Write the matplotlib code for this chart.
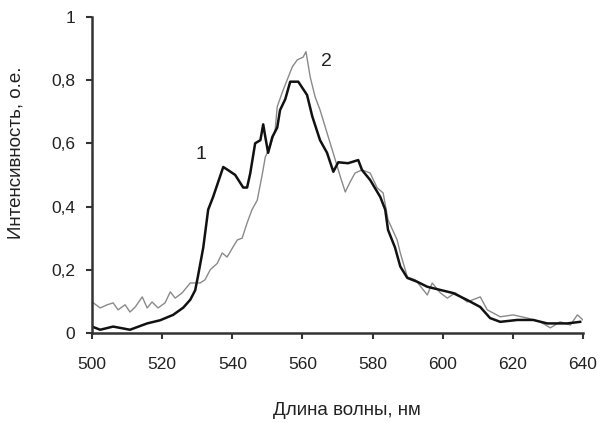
import matplotlib.pyplot as plt

# curve 1 (black)
wl1 = [500, 502.3, 506, 510.8, 515.7, 519.4, 523.1, 526, 528, 529.4, 530.2, 531.7, 533.1, 534.5,
       537.4, 538.8, 540.8, 543.1, 544.2, 545.1, 546.5, 548, 548.8, 549.4, 550.2, 551.4, 552.8,
       553.6, 555.1, 556.5, 558.8, 561.3, 562.8, 565, 567, 568.8, 570.2, 573, 575.9, 577, 579.3,
       582.2, 583.6, 584.4, 586.4, 587.9, 589.9, 592.7, 595.6, 599.3, 603, 607, 610.7, 613.5,
       616.4, 621.3, 625.8, 629.8, 635.5, 639.2]
int1 = [0.02, 0.01, 0.02, 0.01, 0.03, 0.04, 0.057, 0.08, 0.105, 0.135, 0.18, 0.27, 0.39, 0.43,
        0.525, 0.515, 0.5, 0.46, 0.46, 0.505, 0.6, 0.61, 0.66, 0.62, 0.57, 0.62, 0.65,
        0.705, 0.74, 0.795, 0.795, 0.753, 0.685, 0.61, 0.57, 0.51, 0.54, 0.537, 0.547, 0.515, 0.484,
        0.43, 0.39, 0.326, 0.27, 0.21, 0.174, 0.162, 0.146, 0.136, 0.126, 0.104, 0.082, 0.047,
        0.035, 0.041, 0.041, 0.03, 0.03, 0.035]

# curve 2 (grey)
wl2 = [500, 502.3, 504.3, 506, 507.4, 509.4, 510.8, 512.3, 514.3, 515.7, 517.1, 518.8, 520.8,
       522.3, 523.7, 525.7, 528, 529.4, 530.8, 532.2, 533.7, 535.7, 537.1, 538.5, 540.2, 541.4,
       542.8, 544.2, 545.6, 547.1, 548.5, 549.4, 550.8, 552.2, 552.8, 554.2, 555.6, 557.1, 558.5,
       560.2, 561, 562.2, 563.6, 565, 567, 568.5, 570.8, 572.2, 573.6, 575, 577, 579.3, 581.3,
       583, 584.4, 587, 587.9, 589.9, 592.2, 595.6, 597, 599.3, 601.3, 603.6, 607, 610.7, 612.7,
       616.4, 620.1, 624.1, 627.8, 630.7, 633.5, 636.4, 638.4, 640]
int2 = [0.098, 0.079, 0.089, 0.095, 0.073, 0.089, 0.066, 0.082, 0.114, 0.079, 0.098, 0.079, 0.095,
        0.13, 0.11, 0.127, 0.158, 0.158, 0.158, 0.168, 0.2, 0.22, 0.253, 0.24, 0.272, 0.294,
        0.3, 0.348, 0.39, 0.42, 0.5, 0.557, 0.59, 0.642, 0.716, 0.76, 0.8, 0.842, 0.864,
        0.873, 0.89, 0.81, 0.747, 0.706, 0.633, 0.579, 0.494, 0.446, 0.478, 0.506, 0.516, 0.506, 0.459,
        0.443, 0.358, 0.294, 0.253, 0.177, 0.168, 0.12, 0.158, 0.127, 0.11, 0.127, 0.098, 0.114, 0.073,
        0.051, 0.057, 0.047, 0.035, 0.016, 0.035, 0.025, 0.057, 0.041]

xticks = [500, 520, 540, 560, 580, 600, 620, 640]
yticks = [0, 0.2, 0.4, 0.6, 0.8, 1]
ylabels = ["0", "0,2", "0,4", "0,6", "0,8", "1"]

plt.rcParams['font.family'] = ['Liberation Sans', 'DejaVu Sans']

fig = plt.figure(figsize=(6.06, 4.23), dpi=100)
ax = fig.add_axes([0.152, 0.213, 0.810, 0.747])

ax.plot(wl2, int2, color='#8a8a8a', lw=1.0)
ax.plot(wl1, int1, color='#111111', lw=1.8)

ax.text(531, 0.565, "1", fontsize=14, ha='center', va='center', color='#222222')
ax.text(566.8, 0.86, "2", fontsize=14, ha='center', va='center', color='#222222')

ax.set_xlim(500, 640)
ax.set_ylim(0, 1)
ax.set_xticks(xticks)
ax.set_yticks(yticks)
ax.set_yticklabels(ylabels)
ax.spines['top'].set_visible(False)
ax.spines['right'].set_visible(False)
for s in ['left', 'bottom']:
    ax.spines[s].set_linewidth(1.8)
    ax.spines[s].set_color('#333333')
ax.tick_params(direction='out', length=4, width=1.5, colors='#333333',
               labelsize=12.5, labelcolor='#222222')
ax.tick_params(axis='x', pad=13)
ax.tick_params(axis='y', pad=8)

ax.set_xlabel("Длина волны, нм", fontsize=13.5, color='#222222')
ax.set_ylabel("Интенсивность, о.е.", fontsize=13.5, color='#222222')
ax.xaxis.set_label_coords(0.52, -0.22)
ax.yaxis.set_label_coords(-0.137, 0.57)

fig.savefig("out.png", dpi=100)
